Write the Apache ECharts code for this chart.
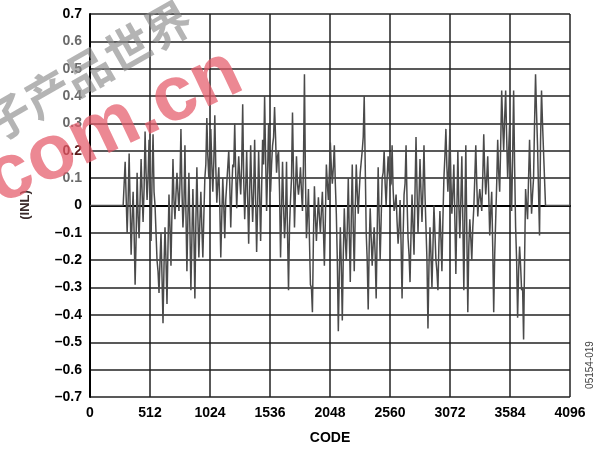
<!DOCTYPE html>
<html>
<head>
<meta charset="utf-8">
<script src="https://cdn.jsdelivr.net/npm/echarts@6/dist/echarts.min.js"></script>
<style>html,body{margin:0;padding:0;background:#fff}#c{width:606px;height:454px}</style>
</head>
<body>
<div id="c"></div>
<script>
// x axis ticks (codes) and y axis range
const xTicks = [0, 512, 1024, 1536, 2048, 2560, 3072, 3584, 4096];
const yTicks = [-0.7, -0.6, -0.5, -0.4, -0.3, -0.2, -0.1, 0, 0.1, 0.2, 0.3, 0.4, 0.5, 0.6, 0.7];
// trace: first code, code step, and INL spike values
const traceStart = 300;
const traceStep = 17;
const inlValues = [
  0.16,-0.1,0.19,-0.18,0.05,-0.29,0.12,-0.12,0.17,-0.06,
  0.27,0.02,0.24,-0.13,0.26,0.0,-0.2,-0.32,-0.1,-0.43,
  -0.08,-0.36,0.04,-0.22,0.17,-0.05,0.12,-0.02,0.28,-0.08,
  0.22,-0.24,0.12,-0.31,0.06,-0.34,0.14,-0.19,0.05,-0.19,
  0.1,0.32,0.1,0.28,0.05,0.33,0.01,0.14,-0.19,0.1,
  -0.12,0.08,0.2,-0.08,0.15,0.3,-0.01,0.18,0.04,0.37,
  -0.05,0.2,-0.14,0.22,-0.06,0.24,-0.17,0.2,-0.13,0.24,
  0.4,-0.02,0.3,0.05,0.22,0.36,0.12,0.2,-0.19,0.16,
  -0.12,0.16,-0.31,0.02,0.34,-0.08,0.18,0.04,0.14,-0.02,
  0.48,-0.12,0.06,-0.29,-0.39,0.07,-0.13,0.03,-0.1,0.05,
  -0.22,0.15,0.02,0.23,0.08,0.22,-0.03,-0.46,-0.08,-0.42,
  -0.01,-0.2,0.1,-0.28,0.15,-0.24,0.15,-0.03,0.12,0.2,
  0.4,-0.1,-0.38,-0.01,-0.22,-0.08,-0.34,0.14,-0.2,0.1,
  0.2,0.0,0.18,0.07,0.22,-0.02,0.04,-0.14,0.02,-0.34,
  0.04,0.22,-0.12,-0.28,0.04,-0.18,0.25,-0.1,0.17,-0.06,
  0.22,-0.08,-0.45,-0.08,-0.3,0.0,-0.2,-0.31,-0.02,-0.24,
  0.1,0.28,0.05,0.28,-0.03,0.15,-0.25,0.2,-0.12,0.18,
  -0.31,0.22,-0.39,-0.05,-0.2,-0.01,0.22,-0.04,0.06,-0.02,
  0.26,0.04,0.18,-0.11,0.05,-0.39,-0.05,0.24,0.05,0.42,
  0.2,0.42,0.1,0.3,-0.02,0.42,-0.08,-0.41,-0.15,-0.31,
  -0.49,0.06,-0.05,0.24,-0.03,0.1,0.48,0.22,-0.11,0.42,
  0.2
];
// dark core level read between consecutive spikes
const inlCore = [
  0.03,0.02,0.0,-0.05,-0.1, -0.12,-0.04,0.02,0.05,0.06,
  0.12,0.1,0.08,0.1,0.05,-0.1, -0.24,-0.2,-0.26,-0.22,-0.2,-0.15,-0.08,
  -0.02,0.02,0.04,0.05,0.08, 0.06,0.0,-0.02,-0.04,-0.08,
  -0.12,-0.1,-0.06,-0.04,-0.06,-0.08,-0.04,
  0.15,0.18,0.2,0.15,0.16,0.14,0.08,0.0, -0.04,0.0,0.02,0.08,
  0.08,0.05,0.14,0.12,0.1,0.1,0.15, 0.1,0.06,0.03,0.05,0.06,0.05,
  0.02,0.0,0.04,0.06,0.15, 0.18,0.12,0.12,0.15,0.25, 0.25,0.18,0.05,
  -0.02,0.0,-0.04,-0.1,-0.08,0.1, 0.12,0.06,0.08,0.08,0.05,0.15,
  0.1,-0.04,-0.12,-0.3,-0.12, -0.04,-0.05,-0.04,-0.02,-0.08,-0.05,
  0.08,0.12,0.14,0.14, 0.08,-0.2, -0.25,-0.22,-0.18,-0.12,-0.08,
  -0.1,-0.05,-0.08,-0.02,0.05,0.05, 0.16,0.25,0.15,-0.2,
  -0.15,-0.12,-0.14,-0.18,-0.1, -0.04,-0.05,
  0.12,0.08,0.1,0.12,0.08,0.06, 0.0,-0.06,-0.08,-0.14,-0.12,0.08,
  0.02,-0.18,-0.1,-0.08,0.05, 0.06,0.02,0.05,0.06,0.04,
  -0.2,-0.22,-0.18,-0.15,-0.1,-0.24,-0.14,-0.12, -0.05,0.18,
  0.14,0.15,0.1,0.05,-0.05, -0.02,0.0,0.02,-0.05,-0.04,-0.1,-0.15,
  -0.12,-0.08,0.1, 0.08,0.02,0.02,0.1,0.12,0.1,0.04,-0.02,-0.15,
  -0.18,0.08, 0.12,0.22, 0.3,0.32,0.25,0.2,0.12, 0.18,0.14,-0.2,
  -0.24,-0.22,-0.3,-0.2, 0.0,0.1,0.1,0.04, 0.3,0.34,0.05,0.23,0.3
];

const traceData = [[0, 0], [traceStart - traceStep, 0]];
inlValues.forEach((v, i) => {
  const code = traceStart + i * traceStep;
  traceData.push([code, v]);
  if (i < inlCore.length) traceData.push([code + traceStep / 2, inlCore[i]]);
});
traceData.push([traceStart + inlValues.length * traceStep, 0]);
traceData.push([4095, 0]);

const fmtNum = v => {
  const r = Math.round(v * 10) / 10;
  if (r === 0) return '0';
  const s = Math.abs(r).toFixed(1);
  return (r < 0 ? '\u2013' : '') + s;
};
const greyLabels = ['0.6', '0.5', '0.4', '0.3', '0.1'];

const chart = echarts.init(document.getElementById('c'), null, {renderer: 'canvas'});
const FONT = '"Liberation Sans", Arial, Helvetica, sans-serif';
chart.setOption({
  animation: false,
  backgroundColor: '#fff',
  grid: {left: 90, right: 36, top: 14, bottom: 57, containLabel: false},
  xAxis: {
    type: 'value', min: xTicks[0], max: xTicks[xTicks.length - 1], interval: 512,
    axisLine: {show: true, lineStyle: {color: '#000', width: 2}},
    axisTick: {show: false},
    splitLine: {show: true, lineStyle: {color: '#222', width: 1.5}},
    axisLabel: {color: '#000', fontFamily: FONT, fontWeight: 'bold', fontSize: 14, margin: 9,
      formatter: v => String(v)},
    name: 'CODE', nameLocation: 'middle', nameGap: 34,
    nameTextStyle: {color: '#000', fontFamily: FONT, fontWeight: 'bold', fontSize: 14}
  },
  yAxis: {
    type: 'value', min: yTicks[0], max: yTicks[yTicks.length - 1], interval: 0.1,
    axisLine: {show: true, lineStyle: {color: '#000', width: 2}},
    axisTick: {show: false},
    splitLine: {show: true, lineStyle: {color: '#222', width: 1.5}},
    axisLabel: {fontFamily: FONT, fontWeight: 'bold', fontSize: 14, margin: 8,
      formatter: v => fmtNum(v),
      color: v => {
        const s = fmtNum(Number(v));
        if (greyLabels.indexOf(s) >= 0) return '#6a6a6a';
        if (s === '0.2') return '#5a1a1a';
        return '#000';
      }}
  },
  graphic: [
    {type: 'text', z: 100, rotation: Math.PI / 2, x: 25, y: 205,
      style: {text: '(INL)', fill: '#3a2a2a', font: 'bold 13px ' + FONT, align: 'center', verticalAlign: 'middle'}},
    {type: 'text', z: 100, rotation: Math.PI / 2, x: 590, y: 365,
      style: {text: '05154-019', fill: '#444', font: '10px ' + FONT, align: 'center', verticalAlign: 'middle'}},
    {type: 'text', z: 200, rotation: 0.52, x: 68, y: 82,
      style: {text: '电子产品世界', fill: 'rgba(140,140,140,0.65)', font: 'bold 46px "Noto Sans CJK SC"', align: 'center', verticalAlign: 'middle'}},
    {type: 'text', z: 200, rotation: 0.44, x: 114, y: 127,
      style: {text: 'com.cn', fill: 'rgba(228,90,105,0.72)', font: 'bold 78px ' + FONT, align: 'center', verticalAlign: 'middle'}}
  ],
  series: [{
    type: 'line', data: traceData, showSymbol: false, symbol: 'none',
    lineStyle: {color: '#4a4a4a', width: 1.5}, z: 3
  }]
});
</script>
</body>
</html>
